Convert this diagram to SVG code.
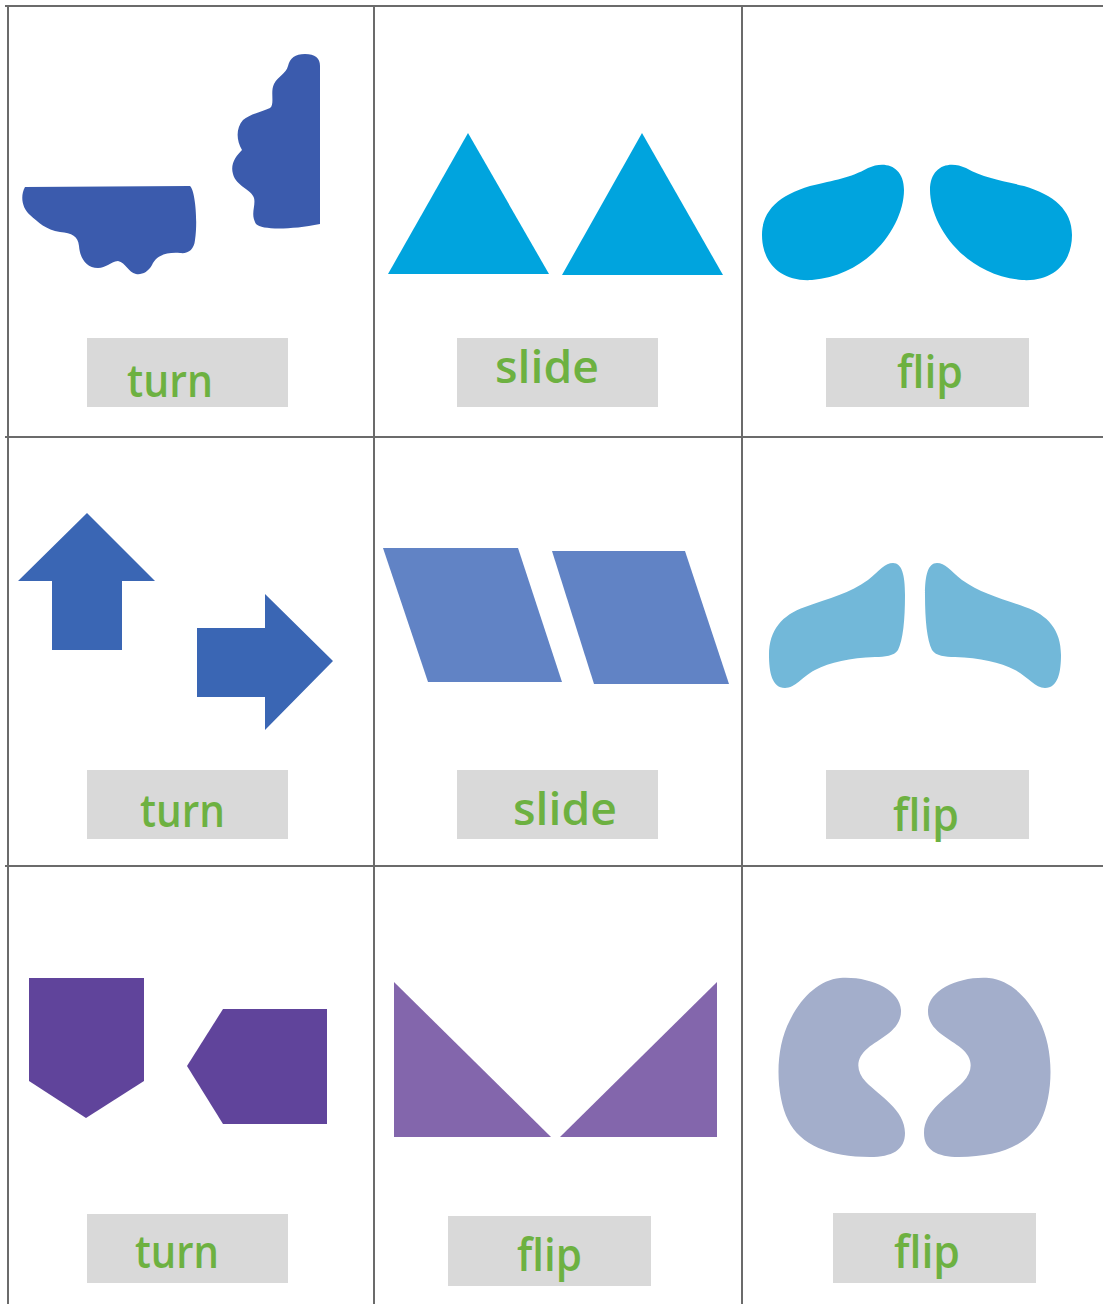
<svg xmlns="http://www.w3.org/2000/svg" width="1103" height="1304" viewBox="0 0 1103 1304">
<style>
.grid{stroke:#6b6b6b;stroke-width:2;fill:none}
.box{fill:#d9d9d9}
.lbl{font-family:"Open Sans","Noto Sans",sans-serif;font-size:46px;font-weight:600;fill:#6db141}
</style>
<defs>
<path id="blob" d="M762,235 C762,210 780,195 810,186 C835,180 850,178 868,168 C885,160 904,166 904,190 C904,225 870,275 812,280 C780,282 762,262 762,235 Z"/>
<path id="wing" d="M893,563 C902,563 905,575 905,595 C905,620 903,640 898,650 C894,656 885,657 875,657 C850,658 830,662 815,670 C802,677 795,688 785,688 C772,688 769,672 769,655 C769,630 782,615 805,607 C830,598 850,593 868,580 C880,570 885,563 893,563 Z"/>
<path id="kidney" d="M840,978 C870,976 900,990 901,1010 C902,1030 880,1038 868,1048 C856,1058 855,1070 866,1082 C880,1096 905,1110 905,1133 C905,1150 892,1157 870,1157 C830,1157 800,1145 788,1120 C776,1095 774,1050 790,1020 C802,996 820,980 840,978 Z"/>
</defs>
<rect width="1103" height="1304" fill="#ffffff"/>
<g id="grid">
<line class="grid" x1="5" y1="6" x2="1103" y2="6"/>
<line class="grid" x1="5" y1="437" x2="1103" y2="437"/>
<line class="grid" x1="5" y1="866" x2="1103" y2="866"/>
<line class="grid" x1="8" y1="5" x2="8" y2="1304"/>
<line class="grid" x1="374" y1="6" x2="374" y2="1304"/>
<line class="grid" x1="742" y1="6" x2="742" y2="1304"/>
</g>
<g id="cell-r1c1">
<path fill="#3b5bad" d="M25,187 L190,186 C195,190 198,220 195,240 C194,250 188,254 180,253 C165,252 156,256 152,265 C148,272 142,275 136,274 C128,272 126,263 118,261 C110,262 106,268 98,268 C86,268 80,258 79,246 C78,236 72,233 60,232 C46,230 38,222 30,215 C22,208 20,196 25,187 Z"/>
<path fill="#3b5bad" d="M320,224 L320,66 C320,58 315,54 305,54 C295,54 290,58 288,66 C286,74 278,76 274,84 C270,92 275,104 270,108 C262,112 250,114 243,120 C236,128 236,140 242,150 C236,156 230,164 233,174 C236,186 252,190 254,198 C256,206 250,214 256,224 C262,230 290,230 320,224 Z"/>
<rect class="box" x="87" y="338" width="201" height="69"/>
<text class="lbl" x="127" y="397" textLength="86" lengthAdjust="spacingAndGlyphs">turn</text>
</g>
<g id="cell-r1c2">
<polygon fill="#00a4de" points="468,133 549,274 388,274"/>
<polygon fill="#00a4de" points="642,133 723,275 562,275"/>
<rect class="box" x="457" y="338" width="201" height="69"/>
<text class="lbl" x="495" y="383" textLength="104" lengthAdjust="spacingAndGlyphs">slide</text>
</g>
<g id="cell-r1c3">
<use href="#blob" fill="#00a4de"/>
<use href="#blob" fill="#00a4de" transform="translate(1834,0) scale(-1,1)"/>
<rect class="box" x="826" y="338" width="203" height="69"/>
<text class="lbl" x="897" y="388" textLength="66" lengthAdjust="spacingAndGlyphs">flip</text>
</g>
<g id="cell-r2c1">
<polygon fill="#3a66b4" points="87,513 155,581 122,581 122,650 52,650 52,581 18,581"/>
<polygon fill="#3a66b4" points="197,628 265,628 265,594 333,661 265,730 265,697 197,697"/>
<rect class="box" x="87" y="770" width="201" height="69"/>
<text class="lbl" x="140" y="827" textLength="85" lengthAdjust="spacingAndGlyphs">turn</text>
</g>
<g id="cell-r2c2">
<polygon fill="#6183c5" points="383,548 518,548 562,682 428,682"/>
<polygon fill="#6183c5" points="552,551 685,551 729,684 594,684"/>
<rect class="box" x="457" y="770" width="201" height="69"/>
<text class="lbl" x="513" y="825" textLength="104" lengthAdjust="spacingAndGlyphs">slide</text>
</g>
<g id="cell-r2c3">
<use href="#wing" fill="#72b8d9"/>
<use href="#wing" fill="#72b8d9" transform="translate(1830,0) scale(-1,1)"/>
<rect class="box" x="826" y="770" width="203" height="69"/>
<text class="lbl" x="893" y="831" textLength="66" lengthAdjust="spacingAndGlyphs">flip</text>
</g>
<g id="cell-r3c1">
<polygon fill="#60449b" points="29,978 144,978 144,1081 86,1118 29,1081"/>
<polygon fill="#60449b" points="223,1009 327,1009 327,1124 223,1124 187,1066"/>
<rect class="box" x="87" y="1214" width="201" height="69"/>
<text class="lbl" x="135" y="1268" textLength="84" lengthAdjust="spacingAndGlyphs">turn</text>
</g>
<g id="cell-r3c2">
<polygon fill="#8366ac" points="394,982 394,1137 551,1137"/>
<polygon fill="#8366ac" points="717,982 717,1137 560,1137"/>
<rect class="box" x="448" y="1216" width="203" height="70"/>
<text class="lbl" x="517" y="1271" textLength="65" lengthAdjust="spacingAndGlyphs">flip</text>
</g>
<g id="cell-r3c3">
<use href="#kidney" fill="#a3aecb"/>
<use href="#kidney" fill="#a3aecb" transform="translate(1829,0) scale(-1,1)"/>
<rect class="box" x="833" y="1213" width="203" height="70"/>
<text class="lbl" x="894" y="1268" textLength="66" lengthAdjust="spacingAndGlyphs">flip</text>
</g>
</svg>
